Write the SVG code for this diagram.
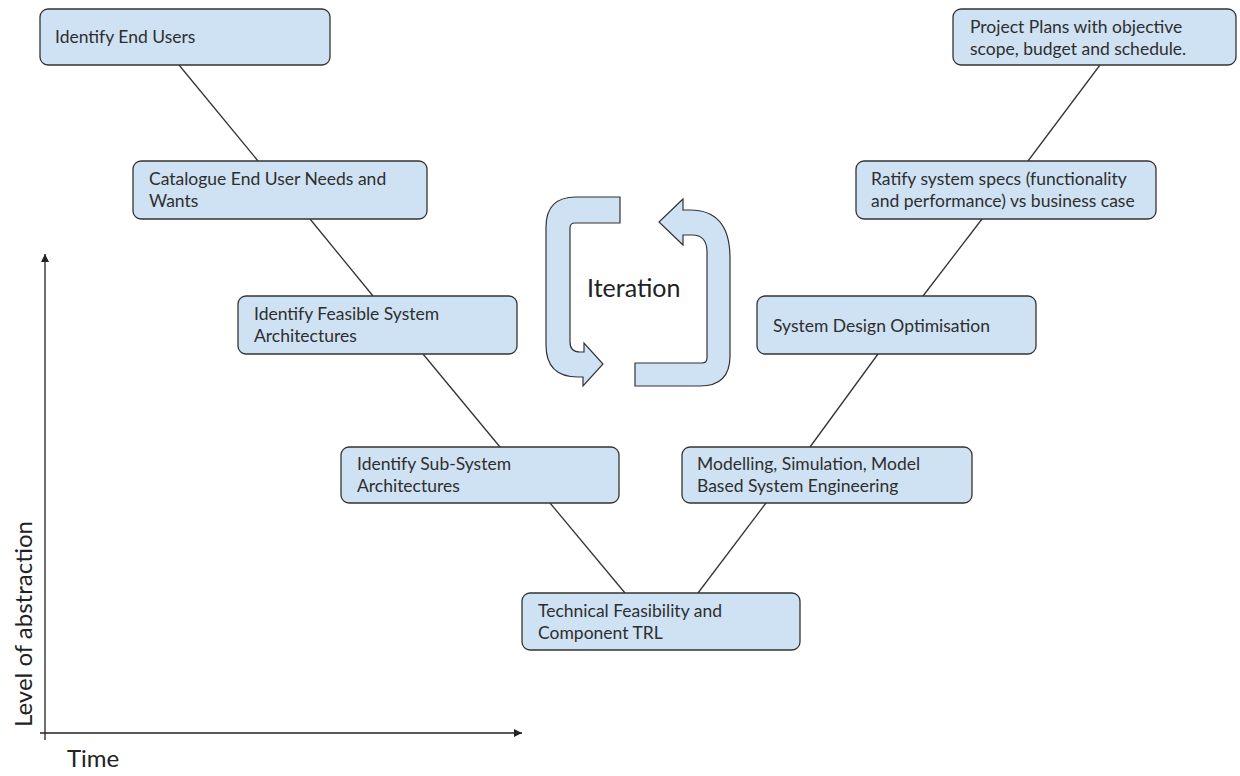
<svg xmlns="http://www.w3.org/2000/svg" width="1240" height="776" viewBox="0 0 1240 776">
<defs>
<style>
.box{fill:#cfe2f3;stroke:#333;stroke-width:1.3}
.t{font-family:Lato,"Open Sans","Liberation Sans",sans-serif;font-size:17.5px;fill:#2e2e2e}
.conn line{stroke:#333;stroke-width:1.3}
.axis{stroke:#222;stroke-width:1.3}
.big{font-family:Lato,"Open Sans","Liberation Sans",sans-serif;font-size:24px;fill:#222}
.iter{fill:#cfe2f3;stroke:#333;stroke-width:1.2;stroke-linejoin:miter}
</style>
<marker id="ah" markerWidth="10" markerHeight="10" refX="8" refY="4" orient="auto" markerUnits="userSpaceOnUse">
<path d="M0,0 L8,4 L0,8 Z" fill="#222"/>
</marker>
</defs>
<rect width="1240" height="776" fill="#ffffff"/>

<g id="connectors" class="conn">
<line x1="179" y1="65" x2="258" y2="161"/>
<line x1="310" y1="219" x2="373" y2="296"/>
<line x1="423" y1="354" x2="500" y2="447"/>
<line x1="550" y1="503" x2="625" y2="593"/>
<line x1="698" y1="593" x2="766" y2="503"/>
<line x1="810" y1="447" x2="878" y2="354"/>
<line x1="923" y1="296" x2="982" y2="219"/>
<line x1="1028" y1="161" x2="1100" y2="65"/>
</g>

<g id="axes">
<line class="axis" x1="45" y1="740" x2="45" y2="254" marker-end="url(#ah)"/>
<line class="axis" x1="40" y1="733" x2="522" y2="733" marker-end="url(#ah)"/>
<text class="big" x="67" y="767">Time</text>
<text class="big" transform="translate(32,727) rotate(-90)">Level of abstraction</text>
</g>

<g id="n1">
<rect class="box" x="40" y="9" width="290" height="56" rx="8"/>
<text class="t" x="55" y="43">Identify End Users</text>
</g>
<g id="n2">
<rect class="box" x="133" y="161" width="294" height="58" rx="8"/>
<text class="t" x="149" y="185">Catalogue End User Needs and</text>
<text class="t" x="149" y="207">Wants</text>
</g>
<g id="n3">
<rect class="box" x="238" y="296" width="279" height="58" rx="8"/>
<text class="t" x="254" y="320">Identify Feasible System</text>
<text class="t" x="254" y="342">Architectures</text>
</g>
<g id="n4">
<rect class="box" x="341" y="447" width="278" height="56" rx="8"/>
<text class="t" x="357" y="470">Identify Sub-System</text>
<text class="t" x="357" y="492">Architectures</text>
</g>
<g id="n5">
<rect class="box" x="522" y="593" width="278" height="57" rx="8"/>
<text class="t" x="538" y="617">Technical Feasibility and</text>
<text class="t" x="538" y="639">Component TRL</text>
</g>
<g id="n6">
<rect class="box" x="682" y="447" width="290" height="56" rx="8"/>
<text class="t" x="697" y="470">Modelling, Simulation, Model</text>
<text class="t" x="697" y="492">Based System Engineering</text>
</g>
<g id="n7">
<rect class="box" x="757" y="296" width="279" height="58" rx="8"/>
<text class="t" x="773" y="332">System Design Optimisation</text>
</g>
<g id="n8">
<rect class="box" x="856" y="161" width="300" height="58" rx="8"/>
<text class="t" x="871" y="185">Ratify system specs (functionality</text>
<text class="t" x="871" y="207">and performance) vs business case</text>
</g>
<g id="n9">
<rect class="box" x="953" y="9" width="283" height="56" rx="8"/>
<text class="t" x="970" y="33">Project Plans with objective</text>
<text class="t" x="970" y="55">scope, budget and schedule.</text>
</g>

<g id="iteration">
<path class="iter" d="M620 197 L576 197 Q546 197 546 227 L546 345 Q546 377 578 377 L583 377 L583 386 L603 364 L584 343 L584 352 L580 352 Q570 352 570 342 L570 228 Q570 223 575 223 L620 223 Z"/>
<path class="iter" d="M635 386 L700 386 Q730 386 730 356 L730 258 Q730 210 690 210 L683 210 L683 199 L659 222 L683 245 L683 235 L692 235 Q707 235 707 252 L707 358 Q707 363 702 363 L635 363 Z"/>
<text x="587" y="297" font-family="Lato,'Open Sans','Liberation Sans',sans-serif" font-size="25" fill="#222">Iteration</text>
</g>
</svg>
